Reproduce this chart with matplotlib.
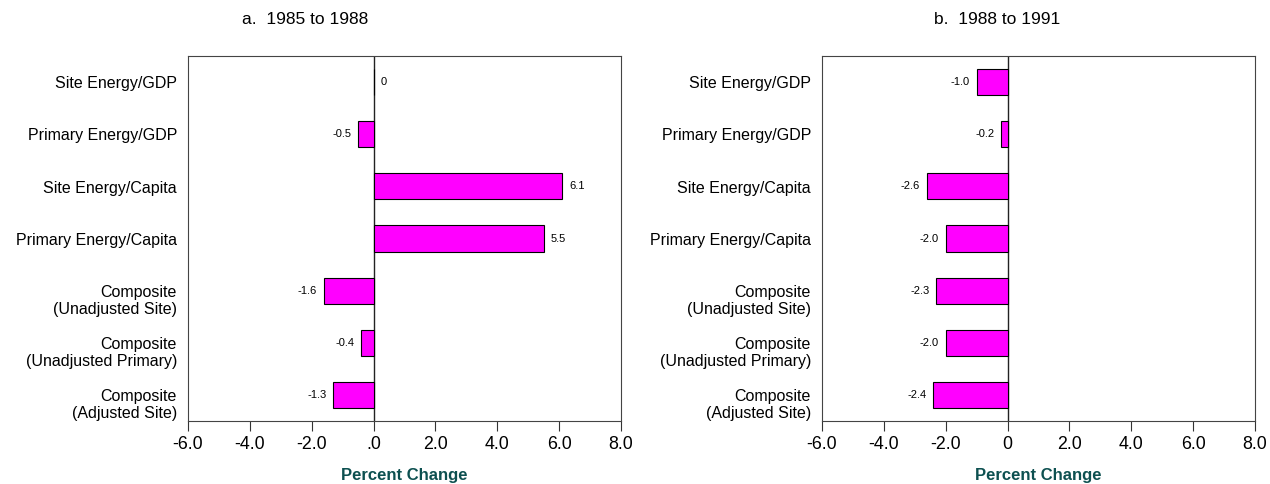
import matplotlib
matplotlib.use("Agg")
import matplotlib.pyplot as plt

categories = ["Site Energy/GDP", "Primary Energy/GDP", "Site Energy/Capita",
              "Primary Energy/Capita", "Composite\n(Unadjusted Site)",
              "Composite\n(Unadjusted Primary)", "Composite\n(Adjusted Site)"]
values_a = [0.0, -0.5, 6.1, 5.5, -1.6, -0.4, -1.3]
labels_a = ["0", "-0.5", "6.1", "5.5", "-1.6", "-0.4", "-1.3"]
values_b = [-1.0, -0.2, -2.6, -2.0, -2.3, -2.0, -2.4]
labels_b = ["-1.0", "-0.2", "-2.6", "-2.0", "-2.3", "-2.0", "-2.4"]
xticks = [-6, -4, -2, 0, 2, 4, 6, 8]
xticklabels_a = ["-6.0", "-4.0", "-2.0", ".0", "2.0", "4.0", "6.0", "8.0"]
xticklabels_b = ["-6.0", "-4.0", "-2.0", "0", "2.0", "4.0", "6.0", "8.0"]
titles = ["a.  1985 to 1988", "b.  1988 to 1991"]

plt.rcParams['font.family'] = ['Liberation Sans', 'DejaVu Sans']

fig = plt.figure(figsize=(12.7, 4.84), dpi=100)
W, H = 1270, 484
panels = [
    (188, values_a, labels_a, xticklabels_a, 305),
    (822, values_b, labels_b, xticklabels_b, 997),
]
for i, (lpx, vals, labs, xtl, tx) in enumerate(panels):
    ax = fig.add_axes([lpx / W, 1 - 421 / H, 433 / W, 365 / H])
    y = list(range(len(categories)))
    ax.barh(y, vals, height=0.5, color="#ff00ff", edgecolor="black", linewidth=0.8, zorder=3)
    ax.axvline(0, color="#222222", linewidth=1.0, zorder=2)
    for yi, v, lab in zip(y, vals, labs):
        if v >= 0:
            ax.annotate(lab, (v, yi), xytext=(5, 0), textcoords="offset points",
                        ha="left", va="center", fontsize=8)
        else:
            ax.annotate(lab, (v, yi), xytext=(-5, 0), textcoords="offset points",
                        ha="right", va="center", fontsize=8)
    ax.set_xlim(-6, 8)
    ax.set_ylim(6.5, -0.5)
    ax.set_xticks(xticks)
    ax.set_xticklabels(xtl, fontsize=12.8)
    ax.set_yticks(y)
    ax.set_yticklabels([])
    # category labels: first line centred on the bar, further lines below
    for yi, cat in zip(y, categories):
        for k, line in enumerate(cat.split("\n")):
            ax.annotate(line, xy=(0, yi), xycoords=("axes fraction", "data"),
                        xytext=(-8, -1.2 - 12.3 * k),
                        textcoords="offset points", ha="right", va="center",
                        fontsize=11.5)
    ax.tick_params(axis="y", length=0)
    ax.tick_params(axis="x", direction="out", length=7, width=0.8, pad=4, color="#333333")
    for s in ax.spines.values():
        s.set_color("#444444")
        s.set_linewidth(0.8)
    ax.set_xlabel("Percent Change", fontsize=12, fontweight="bold", color="#0d5050", labelpad=10.5)
    fig.text(tx / W, 1 - 20 / H, titles[i], ha="center", va="center", fontsize=12.5)

fig.savefig("out.png", dpi=100)
